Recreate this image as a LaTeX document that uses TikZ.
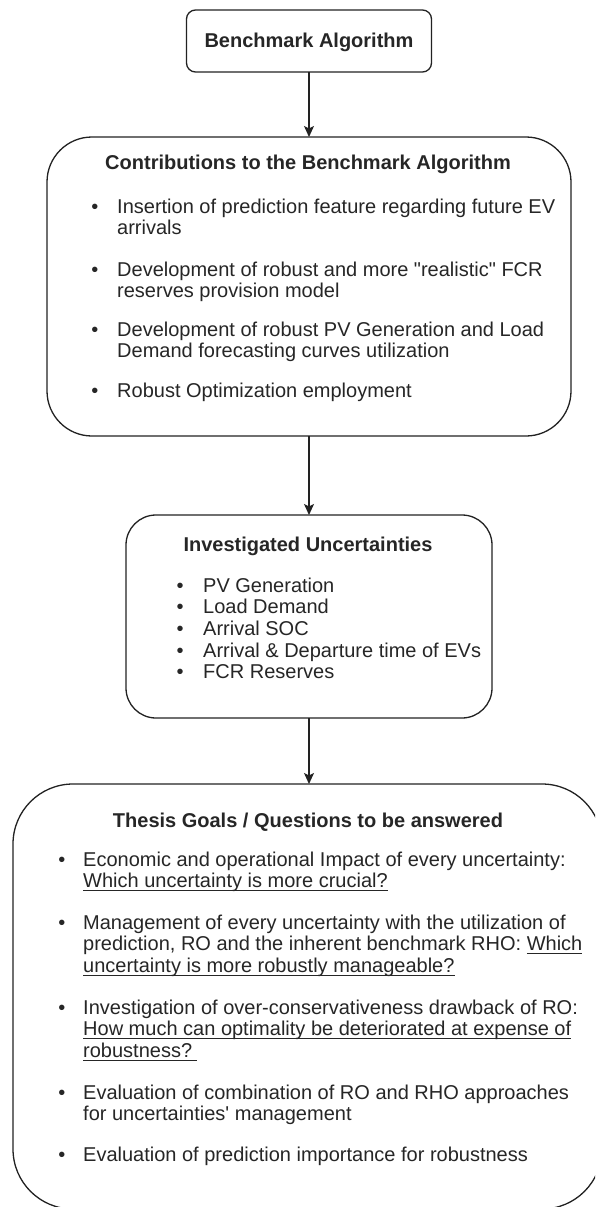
\documentclass[tikz,border=0pt]{standalone}
\usepackage{fontspec}
\setmainfont{Liberation Sans}
\usetikzlibrary{arrows.meta}
\newlength{\myulw}
\newcommand{\myul}[1]{\leavevmode\settowidth{\myulw}{#1}\rlap{\rule[-3.2pt]{\myulw}{1.1pt}}#1}
\definecolor{txt}{HTML}{262626}
\definecolor{edge}{HTML}{222222}
\tikzset{
  box/.style={draw=edge, line width=1.3pt, fill=white, inner sep=0pt, outer sep=0pt},
  ttl/.style={anchor=base, inner sep=0pt, text=txt, font=\fontsize{20}{21.7}\selectfont\bfseries},
  bul/.style={anchor=base, inner sep=0pt, text=txt, font=\fontsize{20}{21.7}\selectfont},
  itm/.style={anchor=base west, inner sep=0pt, text=txt, font=\fontsize{20}{21.7}\selectfont},
  arr/.style={draw=edge, line width=1.3pt, -{Stealth[length=11pt,width=10pt,inset=2.5pt]}}
}
\newcommand{\ilines}[1]{\parbox[t]{520pt}{\raggedright #1}}
\begin{document}
\begin{tikzpicture}[x=1pt,y=-1pt]
\useasboundingbox (0,0) rectangle (595,1207);
\clip (0,0) rectangle (595,1207);

% boxes
\node[box, rounded corners=9pt, minimum width=245pt, minimum height=62pt] (b1) at (309,41) {};
\node[box, rounded corners=45pt, minimum width=524pt, minimum height=299pt] (b2) at (309,286.5) {};
\node[box, rounded corners=30pt, minimum width=366pt, minimum height=203pt] (b3) at (309,616.5) {};
\node[box, rounded corners=60pt, minimum width=589pt, minimum height=425pt] (b4) at (307.5,996.5) {};

% box 1
\node[ttl] (t1) at (309,48) {Benchmark Algorithm};

% box 2
\node[ttl] (t2) at (308,169) {Contributions to the Benchmark Algorithm};
\node[bul] (b2a) at (95,213) {•};
\node[itm] (i2a) at (117,213) {\ilines{Insertion of prediction feature regarding future EV\\arrivals}};
\node[bul] (b2b) at (95,276) {•};
\node[itm] (i2b) at (117,276) {\ilines{Development of robust and more \textquotedbl realistic\textquotedbl{} FCR\\reserves provision model}};
\node[bul] (b2c) at (95,336) {•};
\node[itm] (i2c) at (117,336) {\ilines{Development of robust PV Generation and Load\\Demand forecasting curves utilization}};
\node[bul] (b2d) at (95,397) {•};
\node[itm] (i2d) at (117,397) {Robust Optimization employment};

% box 3
\node[ttl] (t3) at (308,551) {Investigated Uncertainties};
\node[bul] (b3a) at (180,592) {•};
\node[itm] (i3a) at (203,592) {PV Generation};
\node[bul] (b3b) at (180,613.7) {•};
\node[itm] (i3b) at (203,613.7) {Load Demand};
\node[bul] (b3c) at (180,635.4) {•};
\node[itm] (i3c) at (203,635.4) {Arrival SOC};
\node[bul] (b3d) at (180,657.1) {•};
\node[itm] (i3d) at (203,657.1) {Arrival \& Departure time of EVs};
\node[bul] (b3e) at (180,678.8) {•};
\node[itm] (i3e) at (203,678.8) {FCR Reserves};

% box 4
\node[ttl] (t4) at (308,827) {Thesis Goals / Questions to be answered};
\node[bul] (b4a) at (62,866) {•};
\node[itm] (i4a) at (83,866) {\ilines{Economic and operational Impact of every uncertainty:\\\myul{Which uncertainty is more crucial?}}};
\node[bul] (b4b) at (62,929) {•};
\node[itm] (i4b) at (83,929) {\ilines{Management of every uncertainty with the utilization of\\prediction, RO and the inherent benchmark RHO: \myul{Which}\\\myul{uncertainty is more robustly manageable?}}};
\node[bul] (b4c) at (62,1014) {•};
\node[itm] (i4c) at (83,1014) {\ilines{Investigation of over-conservativeness drawback of RO:\\\myul{How much can optimality be deteriorated at expense of}\\\myul{robustness?\hspace*{5pt}}}};
\node[bul] (b4d) at (62,1099) {•};
\node[itm] (i4d) at (83,1099) {\ilines{Evaluation of combination of RO and RHO approaches\\for uncertainties\textquotesingle{} management}};
\node[bul] (b4e) at (62,1161) {•};
\node[itm] (i4e) at (83,1161) {Evaluation of prediction importance for robustness};

% connectors
\draw[arr] (b1.south) -- (b2.north);
\draw[arr] (b2.south) -- (b3.north);
\draw[arr] (b3.south) -- (b3.south |- b4.north);
\end{tikzpicture}
\end{document}
